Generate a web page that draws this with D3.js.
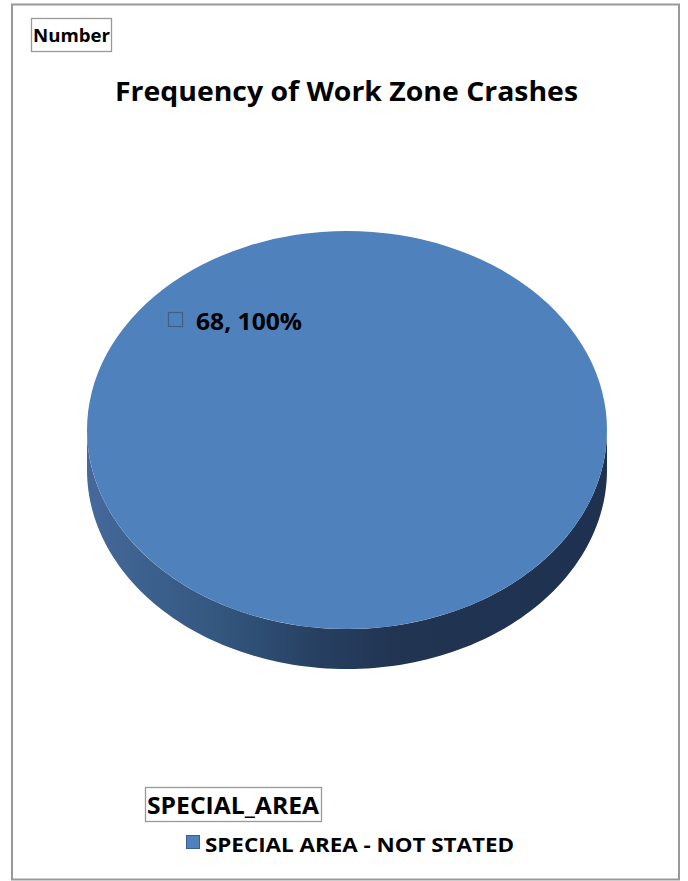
<!DOCTYPE html>
<html>
<head>
<meta charset="utf-8">
<script src="https://cdn.jsdelivr.net/npm/d3@7"></script>
<style>
html,body{margin:0;padding:0;background:#fff;}
svg{display:block;}
text{font-family:"Open Sans","Noto Sans",sans-serif;font-weight:bold;fill:#000;}
</style>
</head>
<body>
<script>
const chartTitle = "Frequency of Work Zone Crashes";
const valueFieldLabel = "Number";
const legendTitle = "SPECIAL_AREA";
const categories = ["SPECIAL AREA - NOT STATED"];
const values = [68];
const colors = ["#4f81bd"];

const W = 688, H = 881;
const svg = d3.select("body").append("svg").attr("width", W).attr("height", H);

// outer frame
svg.append("rect").attr("x", 12).attr("y", 4.5).attr("width", 667).attr("height", 875)
  .attr("fill", "#fff").attr("stroke", "#999").attr("stroke-width", 2);

// "Number" field button
const numG = svg.append("g");
numG.append("rect").attr("x", 31.5).attr("y", 18.5).attr("width", 80).attr("height", 33)
  .attr("fill", "#fff").attr("stroke", "#999").attr("stroke-width", 1.3);
numG.append("text").attr("x", 33).attr("y", 42).attr("font-size", 17)
  .attr("textLength", 77).attr("lengthAdjust", "spacingAndGlyphs").text(valueFieldLabel);

// title
svg.append("text").attr("x", 115).attr("y", 101).attr("font-size", 26.5)
  .attr("textLength", 463).attr("lengthAdjust", "spacingAndGlyphs").text(chartTitle);

// pie geometry
const cx = 347, cy = 430, rx = 260, ry = 199, depth = 40;
const pie = d3.pie().sort(null).value(d => d);
const arcs = pie(values);

const defs = svg.append("defs");
const grad = defs.append("linearGradient").attr("id", "sideGrad")
  .attr("gradientUnits", "userSpaceOnUse").attr("x1", cx - rx).attr("x2", cx + rx).attr("y1", 0).attr("y2", 0);
[[0, "#44699b"], [0.25, "#34577f"], [0.45, "#263f60"], [0.6, "#213452"], [1, "#1f3150"]]
  .forEach(([o, c]) => grad.append("stop").attr("offset", o).attr("stop-color", c));

// point on ellipse for a d3 pie angle (0 = top, clockwise)
const pt = (a, dy = 0) => [cx + rx * Math.sin(a), cy - ry * Math.cos(a) + dy];

// side walls: visible front part (angles between PI/2 and 3PI/2)
arcs.forEach((d, i) => {
  const s = Math.max(d.startAngle, Math.PI / 2);
  const e = Math.min(d.endAngle, 3 * Math.PI / 2);
  if (e <= s) return;
  const n = 120;
  const top = d3.range(n + 1).map(k => pt(s + (e - s) * k / n));
  const bot = top.slice().reverse().map(p => [p[0], p[1] + depth]);
  svg.append("path").attr("d", d3.line()(top.concat(bot)) + "Z")
    .attr("fill", "url(#sideGrad)");
});

// top faces via d3.arc, squashed vertically
const arcGen = d3.arc().innerRadius(0).outerRadius(rx);
const topG = svg.append("g").attr("transform", `translate(${cx},${cy}) scale(1,${ry / rx})`);
topG.selectAll("path").data(arcs).join("path")
  .attr("d", arcGen).attr("fill", (d, i) => colors[i]);

// data label
const total = d3.sum(values);
arcs.forEach((d, i) => {
  const g = svg.append("g");
  g.append("rect").attr("x", 168.5).attr("y", 312.5).attr("width", 14).attr("height", 14)
    .attr("fill", "none").attr("stroke", "#3d5f8a").attr("stroke-width", 1.2);
  g.append("text").attr("x", 196).attr("y", 329.5).attr("font-size", 22.5)
    .attr("textLength", 106).attr("lengthAdjust", "spacingAndGlyphs")
    .text(`${values[i]}, ${d3.format(".0%")(values[i] / total)}`);
});

// legend
const legG = svg.append("g");
legG.append("rect").attr("x", 145.5).attr("y", 787.5).attr("width", 176).attr("height", 34)
  .attr("fill", "#fff").attr("stroke", "#999").attr("stroke-width", 1.3);
legG.append("text").attr("x", 147).attr("y", 814).attr("font-size", 24)
  .attr("textLength", 172).attr("lengthAdjust", "spacingAndGlyphs").text(legendTitle);
categories.forEach((c, i) => {
  const y = 835 + i * 26;
  legG.append("rect").attr("x", 186.5).attr("y", y + 0.5).attr("width", 13).attr("height", 13)
    .attr("fill", colors[i]).attr("stroke", "#3a5f8e").attr("stroke-width", 1);
  legG.append("text").attr("x", 205).attr("y", y + 17).attr("font-size", 20)
    .attr("textLength", 309).attr("lengthAdjust", "spacingAndGlyphs").text(c);
});
</script>
</body>
</html>
